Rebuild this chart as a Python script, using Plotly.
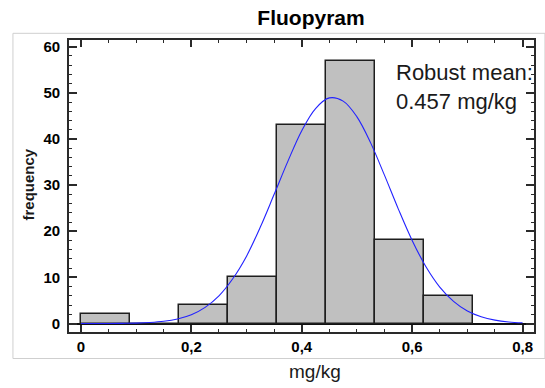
import plotly.graph_objects as go

# ---- data ----
bin_edges = [0.0, 0.0889, 0.1778, 0.2667, 0.3556, 0.4444, 0.5333, 0.6222, 0.7111]
counts = [2, 0, 4, 10, 43, 57, 18, 6]

curve_x = [0.0, 0.025, 0.05, 0.075, 0.10, 0.125, 0.15, 0.175, 0.20, 0.225, 0.25,
           0.275, 0.30, 0.325, 0.35, 0.375, 0.40, 0.425, 0.45, 0.475, 0.50, 0.525,
           0.55, 0.575, 0.60, 0.625, 0.65, 0.675, 0.70, 0.725, 0.75, 0.775, 0.80]
curve_y = [0.0, 0.0, 0.0, 0.04, 0.09, 0.22, 0.48, 0.99, 1.9, 3.5, 6.0,
           9.7, 14.6, 20.9, 28.0, 35.2, 41.8, 46.6, 48.9, 48.2, 44.8, 39.1,
           32.1, 24.8, 18.0, 12.3, 7.9, 4.8, 2.7, 1.45, 0.73, 0.34, 0.15]

x_tickvals = [0, 0.2, 0.4, 0.6, 0.8]
x_ticktext = ["0", "0,2", "0,4", "0,6", "0,8"]
y_tickvals = [0, 10, 20, 30, 40, 50, 60]
y_ticktext = ["0", "10", "20", "30", "40", "50", "60"]

title_text = "Fluopyram"
note_text = "Robust mean:<br>0.457 mg/kg"
x_title = "mg/kg"
y_title = "frequency"

FONT = "Liberation Sans, Arial, sans-serif"
W, H = 545, 388
L, R, T, B = 69, 9, 40, 56
PW, PH = W - L - R, H - T - B


def px_x(p):
    return (p - L) / PW


def px_y(p):
    return (H - B - p) / PH


centers = [(a + b) / 2 for a, b in zip(bin_edges[:-1], bin_edges[1:])]
widths = [b - a for a, b in zip(bin_edges[:-1], bin_edges[1:])]

fig = go.Figure()
fig.add_trace(go.Bar(
    x=centers, y=counts, width=widths,
    marker=dict(color="#c0c0c0", line=dict(color="#1e1e1e", width=1.5)),
    showlegend=False, hoverinfo="skip",
))
fig.add_trace(go.Scatter(
    x=curve_x, y=curve_y, mode="lines", line=dict(color="#2222ff", width=1.1, shape="spline"),
    showlegend=False, hoverinfo="skip",
))

axis_common = dict(
    showline=True, linecolor="#2a2a2a", linewidth=1.6, mirror="allticks",
    ticks="inside", tickcolor="#2a2a2a", tickwidth=1.5, showgrid=False,
    tickfont=dict(family=FONT, size=15, color="black", weight="bold"),
)

fig.update_layout(
    width=W, height=H,
    margin=dict(l=L, r=R, t=T, b=B),
    paper_bgcolor="white", plot_bgcolor="white",
    bargap=0,
    title=dict(text=title_text, x=311 / W, xanchor="center", y=1 - 18 / H, yanchor="middle",
               xref="container", yref="container",
               font=dict(family=FONT, size=21, color="black", weight="bold")),
    xaxis=dict(range=[-0.0216, 0.8207], tickmode="array", tickvals=x_tickvals, ticktext=x_ticktext,
               ticklen=7, zeroline=False,
               minor=dict(tickmode="linear", tick0=0, dtick=0.05, ticks="inside", ticklen=3,
                          tickcolor="#2a2a2a", tickwidth=1),
               **axis_common),
    yaxis=dict(range=[-1.84, 61.45], tickmode="array", tickvals=y_tickvals, ticktext=y_ticktext,
               ticklen=8, zeroline=True, zerolinecolor="#111111", zerolinewidth=1.5,
               ticklabelstandoff=4,
               minor=dict(tickmode="linear", tick0=0, dtick=2, ticks="inside", ticklen=3,
                          tickcolor="#2a2a2a", tickwidth=1),
               **axis_common),
    shapes=[dict(type="rect", xref="paper", yref="paper",
                 x0=px_x(12.7), x1=px_x(547), y0=px_y(358.5), y1=px_y(33.3),
                 line=dict(color="#cfcfcf", width=1), fillcolor="rgba(0,0,0,0)", layer="below")],
    annotations=[
        dict(text=note_text, xref="paper", yref="paper", x=px_x(395), y=px_y(58),
             xanchor="left", yanchor="top", align="left", showarrow=False,
             font=dict(family=FONT, size=22, color="#1a1a1a")),
        dict(text=x_title, xref="paper", yref="paper", x=px_x(316), y=px_y(371),
             xanchor="center", yanchor="middle", showarrow=False,
             font=dict(family=FONT, size=19, color="#1a1a1a")),
        dict(text=y_title, xref="paper", yref="paper", x=px_x(28.3), y=px_y(184),
             xanchor="center", yanchor="middle", showarrow=False, textangle=-90,
             font=dict(family=FONT, size=15, color="#1a1a1a", weight="bold")),
    ],
)

fig.write_html("out.html")
